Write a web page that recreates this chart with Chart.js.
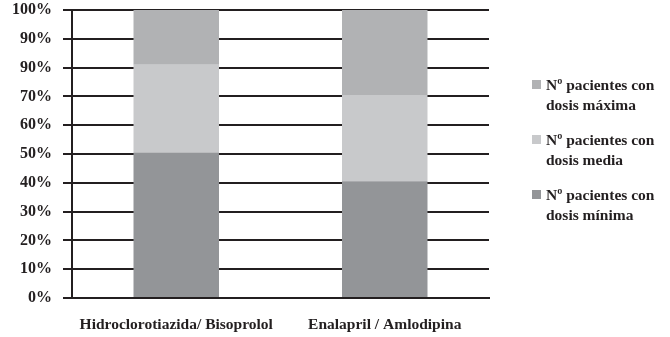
<!DOCTYPE html>
<html>
<head>
<meta charset="utf-8">
<script src="https://cdn.jsdelivr.net/npm/chart.js@4"></script>
<style>
  html, body { margin: 0; padding: 0; background: #fff; }
  #wrap { position: relative; width: 670px; height: 337px; }
  #legend { position: absolute; left: 532px; top: 75px; font: bold 15.5px "Liberation Serif", serif; color: #231f20; }
  .item { position: relative; padding-left: 14px; line-height: 19.5px; height: 39px; margin-bottom: 16px; }
  .box { position: absolute; left: 0; top: 5px; width: 9px; height: 9px; }
</style>
</head>
<body>
<div id="wrap">
  <canvas id="grafico" width="670" height="337"></canvas>
  <div id="legend"></div>
</div>
<script>
// categorias y valores (% de pacientes)
const categorias = ['Hidroclorotiazida/ Bisoprolol', 'Enalapril / Amlodipina'];
const dosisMinima = [50.5, 40.5];
const dosisMedia = [30.5, 30];
const dosisMaxima = [19, 29.5];
// etiquetas del eje Y tal como aparecen (0% ... 100%)
const etiquetasY = ['0%', '10%', '20%', '30%', '40%', '50%', '60%', '70%', '90%', '90%', '100%'];

const colores = {
    minima: '#939598',
    media: '#c8c9cb',
    maxima: '#b1b2b4'
};
const negro = '#231f20';

const ctx = document.getElementById('grafico').getContext('2d');

const grafico = new Chart(ctx, {
    type: 'bar',
    data: {
        labels: categorias,
        datasets: [
            { label: ['Nº pacientes con', 'dosis mínima'], data: dosisMinima, backgroundColor: colores.minima },
            { label: ['Nº pacientes con', 'dosis media'], data: dosisMedia, backgroundColor: colores.media },
            { label: ['Nº pacientes con', 'dosis máxima'], data: dosisMaxima, backgroundColor: colores.maxima }
        ]
    },
    options: {
        responsive: false,
        animation: false,
        layout: { padding: { left: 0, right: 181, top: 10, bottom: 0 } },
        datasets: {
            bar: { barPercentage: 0.41, categoryPercentage: 1, borderWidth: 0 }
        },
        plugins: {
            legend: { display: false },
            tooltip: { enabled: false }
        },
        scales: {
            x: {
                stacked: true,
                grid: { display: false },
                border: { display: true, color: negro, width: 2 },
                ticks: {
                    color: negro, padding: 10, maxRotation: 0,
                    font: { family: '"Liberation Serif", serif', size: 15.5, weight: 'bold' }
                },
                afterFit: function(scale) {
                    scale.height = 39;
                    scale.paddingLeft = 0;
                    scale.paddingRight = 0;
                }
            },
            y: {
                stacked: true,
                min: 0,
                max: 100,
                grid: { color: negro, lineWidth: 2, tickLength: 9, tickColor: negro },
                border: { display: true, color: negro, width: 2 },
                ticks: {
                    stepSize: 10,
                    color: negro,
                    padding: 11,
                    font: { family: '"Liberation Serif", serif', size: 16, weight: 'bold' },
                    callback: function(value) { return etiquetasY[Math.round(value / 10)]; }
                },
                afterFit: function(scale) {
                    scale.width = 72;
                    scale.paddingTop = 0;
                    scale.paddingBottom = 0;
                }
            }
        }
    }
});

// Leyenda en orden inverso (máxima arriba)
const legend = document.getElementById('legend');
grafico.data.datasets.slice().reverse().forEach(ds => {
    const item = document.createElement('div');
    item.className = 'item';
    const box = document.createElement('span');
    box.className = 'box';
    box.style.background = ds.backgroundColor;
    item.appendChild(box);
    item.appendChild(document.createTextNode(ds.label[0]));
    item.appendChild(document.createElement('br'));
    item.appendChild(document.createTextNode(ds.label[1]));
    legend.appendChild(item);
});
</script>
</body>
</html>
